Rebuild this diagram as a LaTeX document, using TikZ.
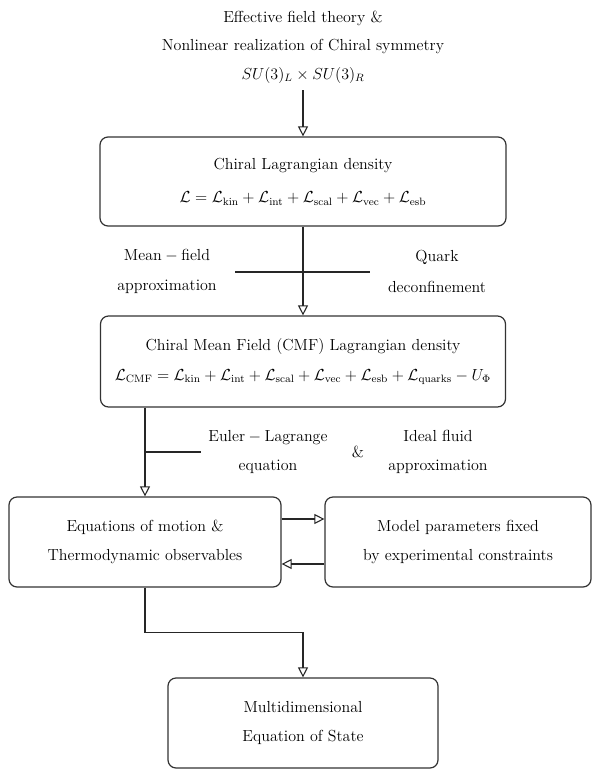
\documentclass[tikz,border=0pt]{standalone}
\usepackage{amsmath}
\usetikzlibrary{arrows.meta}
\begin{document}
\begin{tikzpicture}[
    x=0.75pt, y=-0.75pt,
    every node/.style={font=\large},
    block/.style={draw=black!80, line width=0.9pt, rounded corners=6pt,
        align=center, inner sep=0pt},
    flow/.style={draw=black!85, line width=0.8pt,
        -{Triangle[open, length=7.5pt, width=7.5pt]}},
    link/.style={draw=black!85, line width=0.8pt},
    lbl/.style={align=center}
]
\useasboundingbox (0,0) rectangle (592,769);
\node[lbl, inner sep=5pt] (theory) at (303,47)
    {Effective field theory \&\\[7.5pt]
     Nonlinear realization of Chiral symmetry\\[7.5pt]
     $SU(3)_L\times SU(3)_R$};
\node[block, minimum width=304.5pt, minimum height=66.75pt]
    (lag) at (303,181.5)
    {Chiral Lagrangian density\\[11pt]
     $\mathcal{L}=\mathcal{L}_{\rm kin}+\mathcal{L}_{\rm int}
      +\mathcal{L}_{\rm scal}+\mathcal{L}_{\rm vec}+\mathcal{L}_{\rm esb}$};
\node[block, minimum width=303.75pt, minimum height=68.25pt]
    (cmf) at (303,361.5)
    {Chiral Mean Field (CMF) Lagrangian density\\[8.75pt]
     $\mathcal{L}_{\rm CMF}=\mathcal{L}_{\rm kin}+\mathcal{L}_{\rm int}
      +\mathcal{L}_{\rm scal}+\mathcal{L}_{\rm vec}+\mathcal{L}_{\rm esb}
      +\mathcal{L}_{\rm quarks}-U_\Phi$};
\node[block, minimum width=204pt, minimum height=67.5pt]
    (eom) at (145,542)
    {Equations of motion \&\\[8pt] Thermodynamic observables};
\node[block, minimum width=199.5pt, minimum height=67.5pt]
    (par) at (458,542)
    {Model parameters fixed\\[8pt] by experimental constraints};
\node[block, minimum width=202.5pt, minimum height=67.5pt]
    (eos) at (303,723)
    {Multidimensional\\[8pt] Equation of State};
% labels between the blocks
\node[lbl] (mfa) at (167,271.5) {$\mathrm{Mean-field}$\\[8.75pt] approximation};
\node[lbl] (qdc) at (437,271.5) {Quark\\[8.75pt] deconfinement};
\node[lbl] (elg) at (268,452) {$\mathrm{Euler-Lagrange}$\\[8pt] equation};
\node (amp) at (358,452) {\&};
\node[lbl] (ifa) at (438,452) {Ideal fluid\\[8pt] approximation};
\coordinate (barL) at (235,272);
\coordinate (barR) at (370,272);
\coordinate (eulE) at (201,452);
% connectors
\draw[flow] (theory.south) -- (lag.north);
\draw[flow] (lag.south) -- (cmf.north);
\draw[link] (barL) -- (barR);
\draw[flow] (cmf.south -| eom.north) -- (eom.north);
\draw[link] (eom.north |- eulE) -- (eulE);
\draw[flow] ([yshift=17.25pt]eom.east) -- ([yshift=17.25pt]par.west);
\draw[flow] ([yshift=-16.5pt]par.west) -- ([yshift=-16.5pt]eom.east);
\draw[flow] (eom.south) -- ++(0,45) -| (eos.north);
\end{tikzpicture}
\end{document}
